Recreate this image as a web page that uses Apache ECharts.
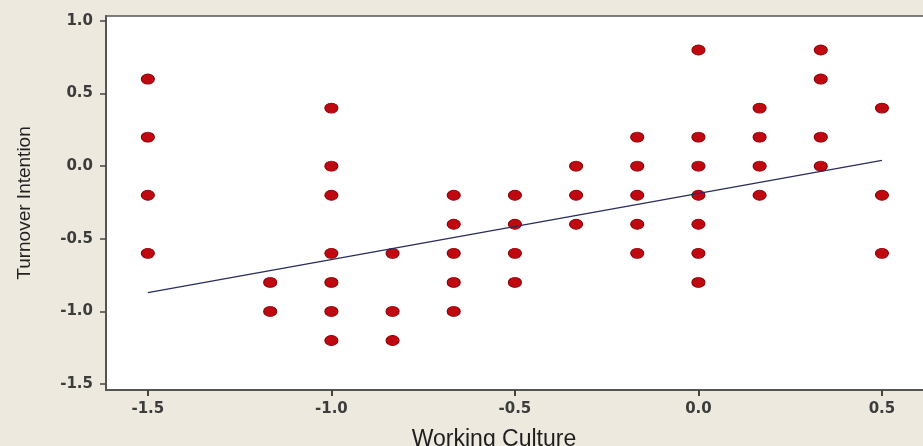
<!DOCTYPE html>
<html>
<head>
<meta charset="utf-8" />
<title>Working Culture vs Turnover Intention</title>
<style>
  html, body { margin: 0; padding: 0; background: #ede9df; }
  #chart { width: 923px; height: 446px; }
</style>
</head>
<body>
<div id="chart"></div>
<script src="https://cdn.jsdelivr.net/npm/echarts@6/dist/echarts.min.js"></script>
<script>
// x levels of working culture and the turnover values observed at each
var xLevels = [-1.5, -1.1667, -1.0, -0.8333, -0.6667, -0.5, -0.3333, -0.1667, 0.0, 0.1667, 0.3333, 0.5];
var yAtLevel = [
  [0.6, 0.2, -0.2, -0.6],
  [-0.8, -1.0],
  [0.4, 0.0, -0.2, -0.6, -0.8, -1.0, -1.2],
  [-0.6, -1.0, -1.2],
  [-0.2, -0.4, -0.6, -0.8, -1.0],
  [-0.2, -0.4, -0.6, -0.8],
  [0.0, -0.2, -0.4],
  [0.2, 0.0, -0.2, -0.4, -0.6],
  [0.8, 0.2, 0.0, -0.2, -0.4, -0.6, -0.8],
  [0.4, 0.2, 0.0, -0.2],
  [0.8, 0.6, 0.2, 0.0],
  [0.4, -0.2, -0.6]
];
// fitted line end points
var fitX = [-1.5, 0.5];
var fitY = [-0.87, 0.04];
var xTicks = [-1.5, -1.0, -0.5, 0.0, 0.5];
var yTicks = [-1.5, -1.0, -0.5, 0.0, 0.5, 1.0];

var points = [];
for (var i = 0; i < xLevels.length; i++) {
  for (var j = 0; j < yAtLevel[i].length; j++) {
    points.push([xLevels[i], yAtLevel[i][j]]);
  }
}
var fitLine = [];
for (var k = 0; k < fitX.length; k++) {
  fitLine.push([fitX[k], fitY[k]]);
}

var labelStyle = {
  color: '#3c3c3c',
  fontFamily: 'DejaVu Sans',
  fontWeight: 'bold',
  fontSize: 15
};

var chart = echarts.init(document.getElementById('chart'));
chart.setOption({
  backgroundColor: '#ede9df',
  animation: false,
  grid: {
    left: 106, right: -3, top: 16, bottom: 56,
    outerBoundsMode: 'none',
    containLabel: false,
    show: true,
    backgroundColor: '#ffffff',
    borderColor: '#555',
    borderWidth: 1.5
  },
  xAxis: {
    type: 'value',
    min: -1.614, max: 0.62,
    name: 'Working Culture',
    nameLocation: 'middle',
    nameGap: 38,
    nameTextStyle: {
      color: '#1e1e1e', fontFamily: 'Liberation Sans', fontSize: 23,
      padding: [0, 44, 0, 0]
    },
    splitLine: { show: false },
    axisLine: { show: true, onZero: false, lineStyle: { color: '#555', width: 2 } },
    axisTick: { show: true, length: 6, customValues: xTicks, lineStyle: { color: '#444', width: 2 } },
    axisLabel: Object.assign({ margin: 12, customValues: xTicks,
      formatter: function (v) { return v.toFixed(1); } }, labelStyle)
  },
  yAxis: {
    type: 'value',
    min: -1.541, max: 1.034,
    name: 'Turnover Intention',
    nameLocation: 'middle',
    nameGap: 72,
    nameTextStyle: { color: '#222', fontFamily: 'Liberation Sans', fontSize: 19 },
    splitLine: { show: false },
    axisLine: { show: true, onZero: false, lineStyle: { color: '#555', width: 2 } },
    axisTick: { show: true, length: 6, customValues: yTicks, lineStyle: { color: '#444', width: 1.5 } },
    axisLabel: Object.assign({ margin: 13, customValues: yTicks,
      formatter: function (v) { return v.toFixed(1); } }, labelStyle)
  },
  series: [{
    name: 'Observed',
    type: 'scatter',
    symbol: 'circle',
    symbolSize: [13, 10],
    itemStyle: { color: '#c00810', borderColor: '#8c0006', borderWidth: 1, opacity: 1 },
    data: points,
    z: 3
  }, {
    name: 'Fit',
    type: 'line',
    showSymbol: false,
    symbol: 'none',
    lineStyle: { color: '#2a2c5e', width: 1.3 },
    data: fitLine,
    z: 4
  }]
});
</script>
</body>
</html>
